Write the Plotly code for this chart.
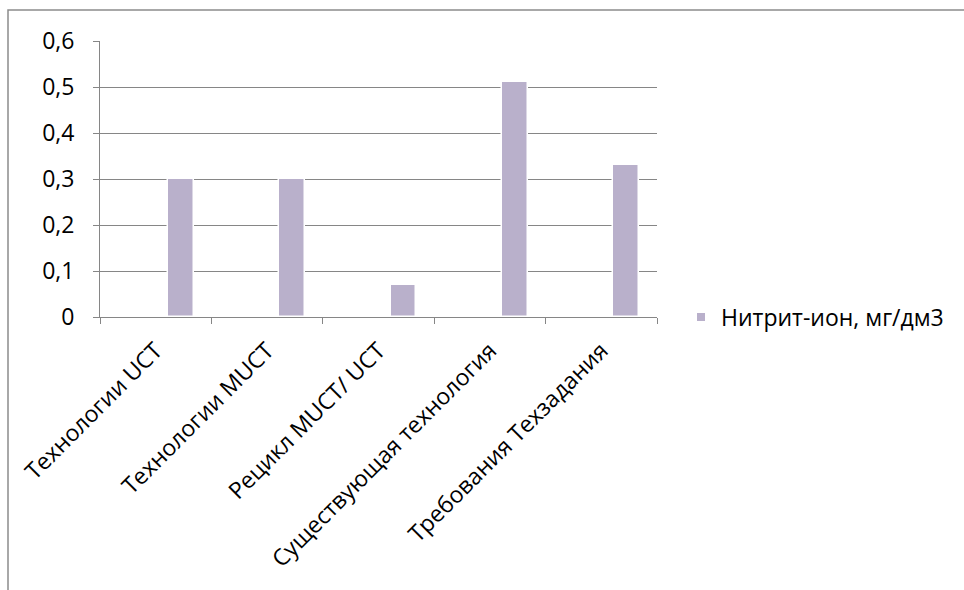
import plotly.graph_objects as go

# Nitrite-ion concentration by treatment technology
categories = [
    "Технологии UCT",
    "Технологии MUCT",
    "Рецикл MUCT/ UCT",
    "Существующая технология",
    "Требования Техзадания",
]
nitrite_values = [0.30, 0.30, 0.07, 0.51, 0.33]
series_name = "Нитрит-ион, мг/дм3"

y_tick_vals = [0, 0.1, 0.2, 0.3, 0.4, 0.5, 0.6]
y_tick_text = ["0", "0,1", "0,2", "0,3", "0,4", "0,5", "0,6"]

BAR_COLOR = "#B9B0CB"
GRID_COLOR = "#868686"
FONT = dict(family="Open Sans, DejaVu Sans, sans-serif", size=23, color="#000000")

fig = go.Figure()

fig.add_trace(go.Bar(
    x=categories,
    y=nitrite_values,
    offset=0.108,
    width=0.233,
    marker=dict(color=BAR_COLOR, line=dict(color="#FFFFFF", width=1.5)),
    showlegend=False,
))

# legend entry with a small square swatch
fig.add_trace(go.Scatter(
    x=[None], y=[None],
    mode="markers",
    marker=dict(symbol="square", size=8, color=BAR_COLOR),
    name=series_name,
    showlegend=True,
    hoverinfo="skip",
))

fig.update_layout(
    width=964,
    height=590,
    autosize=False,
    margin=dict(l=100, r=307, t=41, b=273, pad=0),
    paper_bgcolor="#FFFFFF",
    plot_bgcolor="#FFFFFF",
    font=FONT,
    bargap=0,
    legend=dict(
        x=(681 - 100) / 557, y=0.0, xanchor="left", yanchor="middle",
        font=FONT, bgcolor="rgba(0,0,0,0)",
        itemwidth=30,
    ),
    xaxis=dict(
        type="category",
        range=[-0.5, 4.5],
        tickangle=-45,
        tickson="boundaries",
        ticks="outside",
        ticklen=6,
        tickcolor=GRID_COLOR,
        showline=True,
        linecolor=GRID_COLOR,
        linewidth=1,
        showgrid=False,
        tickfont=FONT,
        ticklabelstandoff=10,
    ),
    yaxis=dict(
        range=[0, 0.6],
        tickvals=y_tick_vals,
        ticktext=y_tick_text,
        ticks="outside",
        ticklen=6,
        tickcolor=GRID_COLOR,
        showline=True,
        linecolor=GRID_COLOR,
        linewidth=1,
        showgrid=True,
        gridcolor=GRID_COLOR,
        gridwidth=1,
        zeroline=False,
        tickfont=FONT,
        ticklabelstandoff=14,
    ),
    shapes=[
        # chart frame around the whole drawing area
        dict(
            type="rect", xref="paper", yref="paper",
            x0=(8 - 100) / 557, x1=(980 - 100) / 557,
            y0=(317 - 600) / 276, y1=(317 - 10) / 276,
            line=dict(color="#8C8C8C", width=1.5),
            fillcolor="rgba(0,0,0,0)",
            layer="below",
        )
    ],
)

fig.write_html("out.html")
